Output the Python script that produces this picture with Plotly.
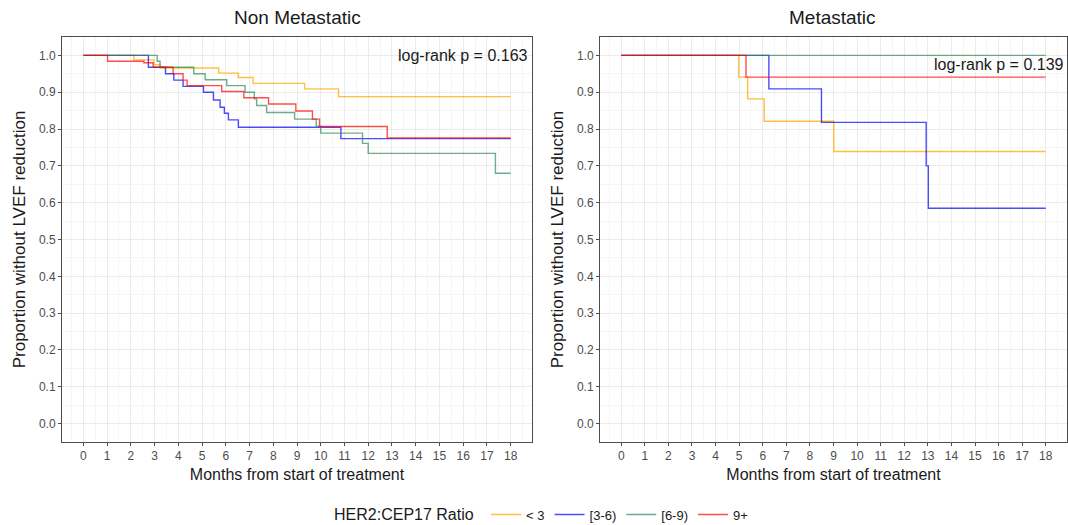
import plotly.graph_objects as go

# ---------------- data ----------------
groups = ["< 3", "[3-6)", "[6-9)", "9+"]
colors = ["rgba(255,170,0,0.75)", "rgba(0,0,255,0.7)", "rgba(46,139,87,0.7)", "rgba(255,0,0,0.7)"]

# Non Metastatic panel (time in months, survival proportion)
nm_lt3_t = [0, 2.13, 2.97, 3.23, 5.7, 6.53, 7.15, 9.32, 10.75, 18]
nm_lt3_s = [1, 0.988, 0.975, 0.966, 0.952, 0.940, 0.924, 0.909, 0.888, 0.888]
nm_36_t = [0, 2.74, 3.46, 3.81, 4.2, 5.06, 5.48, 5.76, 5.94, 6.11, 6.53, 10.85, 18]
nm_36_s = [1, 0.968, 0.950, 0.933, 0.916, 0.900, 0.879, 0.859, 0.843, 0.825, 0.805, 0.774, 0.774]
nm_69_t = [0, 3.11, 3.23, 4.65, 5.13, 6.04, 6.81, 7.2, 7.3, 7.72, 8.9, 9.81, 10.0, 11.76, 12.0, 17.36, 18]
nm_69_s = [1, 0.984, 0.968, 0.950, 0.934, 0.918, 0.900, 0.882, 0.864, 0.845, 0.827, 0.808, 0.789, 0.761, 0.734, 0.680, 0.680]
nm_9p_t = [0, 1.02, 2.55, 2.94, 3.78, 4.2, 4.37, 5.83, 6.76, 7.8, 8.95, 9.65, 9.95, 12.8, 18]
nm_9p_s = [1, 0.984, 0.980, 0.968, 0.950, 0.933, 0.918, 0.902, 0.885, 0.868, 0.849, 0.827, 0.807, 0.776, 0.776]

# Metastatic panel
m_lt3_t = [0, 4.98, 5.36, 6.06, 9.01, 18]
m_lt3_s = [1, 0.941, 0.882, 0.821, 0.739, 0.739]
m_36_t = [0, 6.26, 8.49, 12.93, 13.02, 18]
m_36_s = [1, 0.909, 0.818, 0.700, 0.585, 0.585]
m_69_t = [0, 18]
m_69_s = [1, 1]
m_9p_t = [0, 5.29, 18]
m_9p_s = [1, 0.941, 0.941]

panel_titles = ["Non Metastatic", "Metastatic"]
pvalues = ["log-rank p = 0.163", "log-rank p = 0.139"]
pvalue_y = [1.0, 0.975]
x_ticks = list(range(0, 19))
y_ticks = [round(i * 0.1, 1) for i in range(0, 11)]
x_title = "Months from start of treatment"
y_title = "Proportion without LVEF reduction"
legend_title = "HER2:CEP17 Ratio"

# ---------------- figure ----------------
W, H = 1068, 525
fig = go.Figure()

panels = [
    ([nm_lt3_t, nm_36_t, nm_69_t, nm_9p_t], [nm_lt3_s, nm_36_s, nm_69_s, nm_9p_s], "x", "y"),
    ([m_lt3_t, m_36_t, m_69_t, m_9p_t], [m_lt3_s, m_36_s, m_69_s, m_9p_s], "x2", "y2"),
]
for pi, (ts, ss, xa, ya) in enumerate(panels):
    for gi in range(4):
        fig.add_trace(go.Scatter(
            x=ts[gi], y=ss[gi], mode="lines", line_shape="hv",
            line=dict(color=colors[gi], width=1.4),
            name=groups[gi], legendgroup=groups[gi], showlegend=(pi == 0),
            xaxis=xa, yaxis=ya, hoverinfo="skip",
        ))

font_family = "Liberation Sans, Arial, sans-serif"
axis_common = dict(
    showgrid=True, gridcolor="#EBEBEB", gridwidth=1, automargin=False,
    zeroline=False, showline=True, mirror=True, linecolor="#4D4D4D", linewidth=1,
    ticks="outside", ticklen=3, tickcolor="#4D4D4D",
    tickfont=dict(size=12, color="#4D4D4D", family=font_family),
)
xcommon = dict(axis_common, range=[-0.9, 18.9], tickvals=x_ticks,
               minor=dict(dtick=0.5, tick0=0, showgrid=True, gridcolor="#F5F5F5", ticks=""),
               title=dict(text=x_title, font=dict(size=16, color="#1a1a1a", family=font_family), standoff=6))
ycommon = dict(axis_common, range=[-0.05, 1.05], tickvals=y_ticks, tickformat=".1f",
               minor=dict(dtick=0.05, tick0=0, showgrid=True, gridcolor="#F5F5F5", ticks=""),
               title=dict(text=y_title, font=dict(size=17, color="#1a1a1a", family=font_family), standoff=8))

top, bottom = 37, 442
ydom = [1 - bottom / H, 1 - top / H]
fig.update_layout(
    width=W, height=H,
    margin=dict(l=0, r=0, t=0, b=0, autoexpand=False),
    paper_bgcolor="white", plot_bgcolor="white",
    font=dict(family=font_family, color="#1a1a1a"),
    xaxis=dict(xcommon, domain=[62 / W, 532 / W], anchor="y"),
    yaxis=dict(ycommon, domain=ydom, anchor="x"),
    xaxis2=dict(xcommon, domain=[600 / W, 1067 / W], anchor="y2"),
    yaxis2=dict(ycommon, domain=ydom, anchor="x2"),
    legend=dict(
        orientation="h", x=0.508, xanchor="center", y=1 - 515 / H, yanchor="middle",
        title=dict(text=legend_title + " ", font=dict(size=16, color="#1a1a1a"), side="left"),
        font=dict(size=13, color="#1a1a1a"), itemwidth=30, tracegroupgap=0,
        bgcolor="rgba(0,0,0,0)",
    ),
    showlegend=True,
)

titles_x = [297 / W, 832 / W]
for i in range(2):
    fig.add_annotation(text=panel_titles[i], x=titles_x[i], y=1 - 18 / H, xref="paper", yref="paper",
                       showarrow=False, font=dict(size=19, color="#1a1a1a"), xanchor="center", yanchor="middle")
    fig.add_annotation(text=pvalues[i], x=16, y=pvalue_y[i], xref="x" if i == 0 else "x2",
                       yref="y" if i == 0 else "y2", showarrow=False,
                       font=dict(size=16, color="#1a1a1a"), xanchor="center", yanchor="middle")

fig.write_html(
    "out.html",
    config={"displayModeBar": False},
    post_script="document.body.style.margin='0';document.body.style.padding='0';document.body.style.overflow='hidden';",
)
